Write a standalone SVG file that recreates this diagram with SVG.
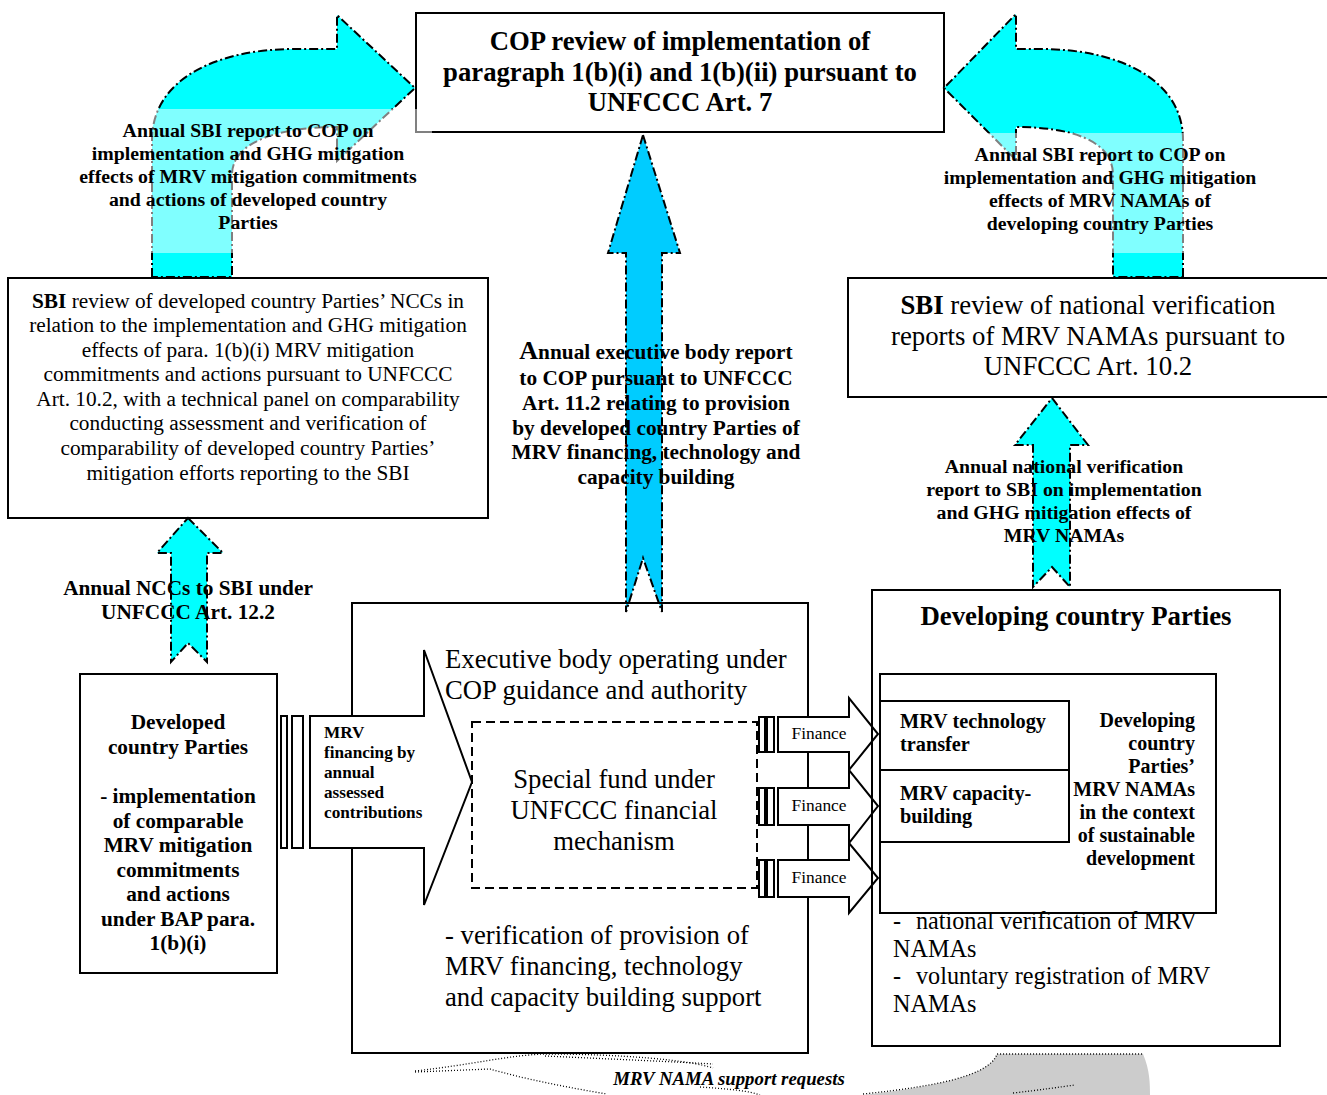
<svg xmlns="http://www.w3.org/2000/svg" width="1327" height="1095" viewBox="0 0 1327 1095">
<style>
text{font-family:"Liberation Serif","Times New Roman",serif;fill:#000}
.b{font-weight:bold}
.box{fill:#fff;stroke:#000;stroke-width:2}
.nbox{fill:none;stroke:#000;stroke-width:2}
.cy{fill:#00ffff;stroke:#000;stroke-width:2;stroke-dasharray:9 3 2 3}
.sky{fill:#00ccff;stroke:#000;stroke-width:2;stroke-dasharray:9 3 2 3}
.wa{fill:#fff;stroke:#000;stroke-width:2}
.veil{fill:#fff;fill-opacity:0.5}
.dot{fill:none;stroke:#000;stroke-width:1.3;stroke-dasharray:1 2}
</style>

<g id="cop">
<rect class="box" x="416" y="13" width="528" height="119"/>
<text class="b" font-size="26.7" text-anchor="middle"><tspan x="680" y="50">COP review of implementation of</tspan><tspan x="680" y="81">paragraph 1(b)(i) and 1(b)(ii) pursuant to</tspan><tspan x="680" y="111">UNFCCC Art. 7</tspan></text>
</g>

<g id="connectors">
<path id="arrow-left-curve" class="cy" d="M152 277 L152 140 C152 80 215 49 295 49 L337 49 L337 15 L415 88 L337 161 L337 127 C283 127 232 140 232 175 L232 277 Z"/>
<path id="arrow-right-curve" class="cy" d="M1183 277 L1183 140 C1183 80 1120 49 1040 49 L1016 49 L1016 14 L944 88 L1016 160 L1016 127 C1070 127 1113 140 1113 175 L1113 277 Z"/>
<rect class="veil" x="60" y="109" width="372" height="144"/>
<rect class="veil" x="935" y="133" width="330" height="120"/>
<path id="arrow-center" class="sky" d="M643 135 L680 253 L662 253 L662 612 L643 558 L626 612 L626 253 L608 253 Z"/>
<path id="arrow-ncc" class="cy" d="M188 518 L223 553 L207 553 L207 662 L188 643 L171 662 L171 553 L157 553 Z"/>
<path id="arrow-natver" class="cy" d="M1052 398 L1088 445 L1070 445 L1070 587 L1052 567 L1033 587 L1033 445 L1015 445 Z"/>
</g>

<g id="label-left-curve">
<text class="b" font-size="19.8" text-anchor="middle"><tspan x="248" y="137">Annual SBI report to COP on</tspan><tspan x="248" y="160">implementation and GHG mitigation</tspan><tspan x="248" y="183">effects of MRV mitigation commitments</tspan><tspan x="248" y="206">and actions of developed country</tspan><tspan x="248" y="229">Parties</tspan></text>
</g>
<g id="label-right-curve">
<text class="b" font-size="19.8" text-anchor="middle"><tspan x="1100" y="161">Annual SBI report to COP on</tspan><tspan x="1100" y="184">implementation and GHG mitigation</tspan><tspan x="1100" y="207">effects of MRV NAMAs of</tspan><tspan x="1100" y="230">developing country Parties</tspan></text>
</g>
<g id="label-center">
<text class="b" font-size="21.3" text-anchor="middle"><tspan x="656" y="359"><tspan font-size="26">A</tspan>nnual executive body report</tspan><tspan x="656" y="385">to COP pursuant to UNFCCC</tspan><tspan x="656" y="410">Art. 11.2 relating to provision</tspan><tspan x="656" y="435">by developed country Parties of</tspan><tspan x="656" y="459">MRV financing, technology and</tspan><tspan x="656" y="484">capacity building</tspan></text>
</g>
<g id="label-ncc">
<text class="b" font-size="21.3" text-anchor="middle"><tspan x="188" y="595">Annual NCCs to SBI under</tspan><tspan x="188" y="619">UNFCCC Art. 12.2</tspan></text>
</g>
<g id="label-natver">
<text class="b" font-size="19.8" text-anchor="middle"><tspan x="1064" y="473">Annual national verification</tspan><tspan x="1064" y="496">report to SBI on implementation</tspan><tspan x="1064" y="519">and GHG mitigation effects of</tspan><tspan x="1064" y="542">MRV NAMAs</tspan></text>
</g>

<g id="sbi-left">
<rect class="nbox" x="8" y="278" width="480" height="240"/>
<text font-size="21.3" text-anchor="middle"><tspan x="248" y="308"><tspan class="b">SBI</tspan> review of developed country Parties’ NCCs in</tspan><tspan x="248" y="332">relation to the implementation and GHG mitigation</tspan><tspan x="248" y="357">effects of para. 1(b)(i) MRV mitigation</tspan><tspan x="248" y="381">commitments and actions pursuant to UNFCCC</tspan><tspan x="248" y="406">Art. 10.2, with a technical panel on comparability</tspan><tspan x="248" y="430">conducting assessment and verification of</tspan><tspan x="248" y="455">comparability of developed country Parties’</tspan><tspan x="248" y="480">mitigation efforts reporting to the SBI</tspan></text>
</g>

<g id="sbi-right">
<rect class="nbox" x="848" y="278" width="490" height="119"/>
<text font-size="26.8" text-anchor="middle"><tspan x="1088" y="314"><tspan class="b">SBI</tspan> review of national verification</tspan><tspan x="1088" y="345">reports of MRV NAMAs pursuant to</tspan><tspan x="1088" y="375">UNFCCC Art. 10.2</tspan></text>
</g>

<g id="developed">
<rect class="nbox" x="80" y="674" width="197" height="299"/>
<text class="b" font-size="21.3" text-anchor="middle"><tspan x="178" y="729">Developed</tspan><tspan x="178" y="754">country Parties</tspan><tspan x="178" y="803">- implementation</tspan><tspan x="178" y="828">of comparable</tspan><tspan x="178" y="852">MRV mitigation</tspan><tspan x="178" y="877">commitments</tspan><tspan x="178" y="901">and actions</tspan><tspan x="178" y="926">under BAP para.</tspan><tspan x="178" y="950">1(b)(i)</tspan></text>
</g>

<g id="executive">
<rect class="nbox" x="352" y="603" width="456" height="450"/>
<text font-size="26.7"><tspan x="445" y="668">Executive body operating under</tspan><tspan x="445" y="699">COP guidance and authority</tspan><tspan x="445" y="944">- verification of provision of</tspan><tspan x="445" y="975">MRV financing, technology</tspan><tspan x="445" y="1006">and capacity building support</tspan></text>
</g>

<g id="mrv-financing-arrow">
<rect class="wa" x="281" y="716" width="6" height="132"/>
<rect class="wa" x="292" y="716" width="11" height="132"/>
<path class="wa" d="M310 716 L424 716 L424 650 L472 782 L424 905 L424 848 L310 848 Z"/>
<text class="b" font-size="17.2"><tspan x="324" y="738">MRV</tspan><tspan x="324" y="758">financing by</tspan><tspan x="324" y="778">annual</tspan><tspan x="324" y="798">assessed</tspan><tspan x="324" y="818">contributions</tspan></text>
</g>

<g id="special-fund">
<rect x="472" y="722" width="285" height="166" fill="#fff" stroke="#000" stroke-width="2" stroke-dasharray="9 5"/>
<text font-size="26.7" text-anchor="middle"><tspan x="614" y="788">Special fund under</tspan><tspan x="614" y="819">UNFCCC financial</tspan><tspan x="614" y="850">mechanism</tspan></text>
</g>

<g id="finance-arrows">
<rect class="wa" x="759" y="717" width="6" height="35"/><rect class="wa" x="767" y="717" width="7" height="35"/>
<path class="wa" d="M778 717 L849 717 L849 698 L878 734 L849 770 L849 752 L778 752 Z"/>
<rect class="wa" x="759" y="788" width="6" height="37"/><rect class="wa" x="767" y="788" width="7" height="37"/>
<path class="wa" d="M778 788 L849 788 L849 770 L878 806 L849 843 L849 825 L778 825 Z"/>
<rect class="wa" x="759" y="860" width="6" height="37"/><rect class="wa" x="767" y="860" width="7" height="37"/>
<path class="wa" d="M778 860 L849 860 L849 843 L878 878 L849 913 L849 897 L778 897 Z"/>
<text font-size="17.4" text-anchor="middle"><tspan x="819" y="739">Finance</tspan><tspan x="819" y="811">Finance</tspan><tspan x="819" y="883">Finance</tspan></text>
</g>

<g id="developing">
<rect class="nbox" x="872" y="590" width="408" height="456"/>
<text class="b" font-size="26.8" text-anchor="middle" x="1076" y="625">Developing country Parties</text>
<rect class="nbox" x="880" y="674" width="336" height="239"/>
<rect class="nbox" x="880" y="701" width="189" height="69"/>
<rect class="nbox" x="880" y="770" width="189" height="72"/>
<text class="b" font-size="20.3"><tspan x="900" y="728">MRV technology</tspan><tspan x="900" y="751">transfer</tspan><tspan x="900" y="800">MRV capacity-</tspan><tspan x="900" y="823">building</tspan></text>
<text class="b" font-size="20" text-anchor="end"><tspan x="1195" y="727">Developing</tspan><tspan x="1195" y="750">country</tspan><tspan x="1195" y="773">Parties’</tspan><tspan x="1195" y="796">MRV NAMAs</tspan><tspan x="1195" y="819">in the context</tspan><tspan x="1195" y="842">of sustainable</tspan><tspan x="1195" y="865">development</tspan></text>
<text font-size="24.2"><tspan x="893" y="929">-</tspan><tspan x="916" y="929">national verification of MRV</tspan><tspan x="893" y="957">NAMAs</tspan><tspan x="893" y="984">-</tspan><tspan x="916" y="984">voluntary registration of MRV</tspan><tspan x="893" y="1012">NAMAs</tspan></text>
</g>

<g id="support-requests">
<path d="M863 1095 C940 1086 990 1075 997 1054 L1143 1054 C1150 1070 1150 1085 1150 1095 Z" fill="#cccccc"/>
<path class="dot" d="M863 1094 C940 1086 990 1075 997 1054 L1143 1054"/>
<path class="dot" d="M1013 1093 C1040 1090 1060 1087 1075 1085"/>
<path class="dot" d="M415 1071 C470 1065 510 1055 545 1054 C620 1054 690 1060 713 1068"/>
<path class="dot" d="M415 1072 L490 1069 C520 1078 570 1088 607 1094"/>
<path class="dot" d="M545 1056 C610 1059 680 1062 713 1064"/>
<path class="dot" d="M700 1087 C730 1089 750 1091 760 1095"/>
<text class="b" font-style="italic" font-size="18.8" text-anchor="middle" x="729" y="1085">MRV NAMA support requests</text>
</g>
</svg>
